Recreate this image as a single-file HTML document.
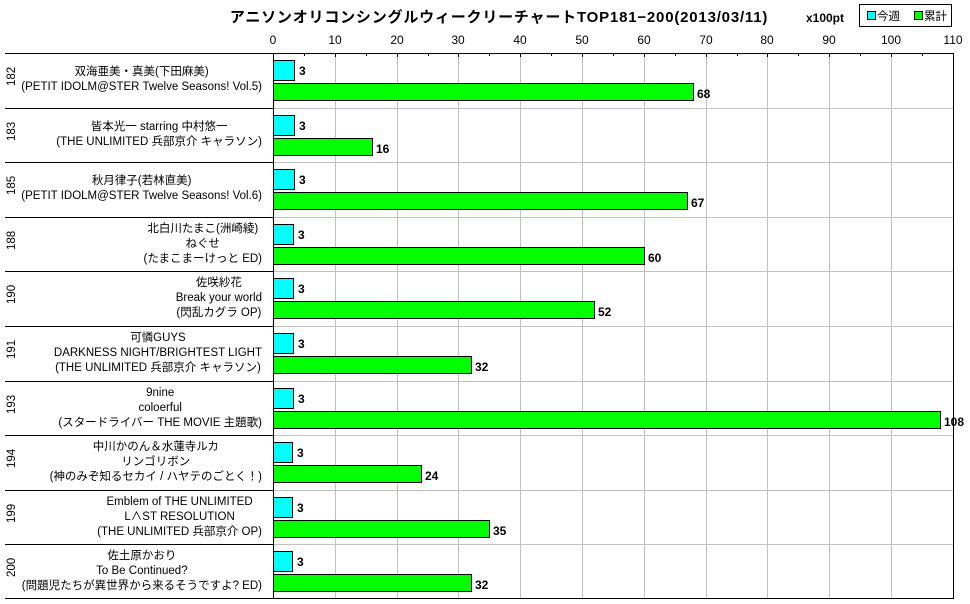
<!DOCTYPE html>
<html><head><meta charset="utf-8"><style>
body{margin:0;background:#fff;width:970px;height:604px;overflow:hidden;position:relative;font-family:"Liberation Sans","Noto Sans CJK JP",sans-serif;}
.lab{position:absolute;right:708px;text-align:right;font-size:11.5px;line-height:15px;color:#000}
.lab span{display:inline-block;text-align:center;white-space:nowrap}
.rk{position:absolute;left:4px;width:16px;font-size:11.5px;transform:rotate(-90deg);text-align:center}
</style></head><body>
<svg width="970" height="604" style="position:absolute;left:0;top:0" font-family="Liberation Sans, Noto Sans CJK JP, sans-serif">
<text x="499" y="22" font-size="15" font-weight="bold" letter-spacing="0.8" text-anchor="middle">アニソンオリコンシングルウィークリーチャートTOP181−200(2013/03/11)</text>
<text x="825" y="22" font-size="12" font-weight="bold" text-anchor="middle">x100pt</text>
<rect x="859.5" y="4.5" width="92" height="22" fill="#fff" stroke="#000"/>
<rect x="867.5" y="11.5" width="8" height="8" fill="#00ffff" stroke="#000"/>
<text x="877" y="20" font-size="11.5">今週</text>
<rect x="914.5" y="11.5" width="8" height="8" fill="#00ff00" stroke="#000"/>
<text x="924" y="20" font-size="11.5">累計</text>
<g id="grid"></g>
</svg>
<div id="labs"></div>
<script>
var x0=273,s=6.18,top0=53,rh=54.6;
var data=[["182",["双海亜美・真美(下田麻美)","(PETIT IDOLM@STER Twelve Seasons! Vol.5)"],68,21],
["183",["皆本光一 starring 中村悠一","(THE UNLIMITED 兵部京介 キャラソン)"],16,21],
["185",["秋月律子(若林直美)","(PETIT IDOLM@STER Twelve Seasons! Vol.6)"],67,21],
["188",["北白川たまこ(洲崎綾)","ねぐせ","(たまこまーけっと ED)"],60,20],
["190",["佐咲紗花","Break your world","(閃乱カグラ OP)"],52,20],
["191",["可憐GUYS","DARKNESS NIGHT/BRIGHTEST LIGHT","(THE UNLIMITED 兵部京介 キャラソン)"],32,20],
["193",["9nine","coloerful","(スタードライバー THE MOVIE 主題歌)"],108,20],
["194",["中川かのん＆水蓮寺ルカ","リンゴリボン","(神のみぞ知るセカイ / ハヤテのごとく！)"],24,19],
["199",["Emblem of THE UNLIMITED","L∧ST RESOLUTION","(THE UNLIMITED 兵部京介 OP)"],35,19],
["200",["佐土原かおり","To Be Continued?","(問題児たちが異世界から来るそうですよ? ED)"],32,19]];
var g='',h='';
for(var i=1;i<=11;i++){var x=Math.round(x0+i*10*s)+.5;if(i<11)g+='<line x1="'+x+'" y1="53" x2="'+x+'" y2="599" stroke="#c0c0c0"/>';}
for(var i=0;i<=11;i++){var x=Math.round(x0+i*10*s);g+='<text x="'+x+'" y="44" font-size="12" text-anchor="middle">'+(i*10)+'</text>';}
for(var i=1;i<22;i++){var x=Math.round(x0+i*5*s)+.5;g+='<line x1="'+x+'" y1="53" x2="'+x+'" y2="'+(i%2?56:57)+'" stroke="#000"/>';}
for(var r=1;r<10;r++){var y=Math.round(top0+r*rh)+.5;g+='<line x1="'+x0+'" y1="'+y+'" x2="953" y2="'+y+'" stroke="#c0c0c0"/><line x1="5" y1="'+y+'" x2="'+x0+'" y2="'+y+'" stroke="#000"/>';}
data.forEach(function(d,r){var t=Math.round(top0+r*rh);
g+='<rect x="273.5" y="'+(t+7.5)+'" width="'+d[3]+'" height="20" fill="#00ffff" stroke="#000"/>';
g+='<text x="'+(273+d[3]+5)+'" y="'+(t+22)+'" font-size="12" font-weight="bold">3</text>';
var w=Math.round(d[2]*s);
g+='<rect x="273.5" y="'+(t+30.5)+'" width="'+w+'" height="17" fill="#00ff00" stroke="#000"/>';
g+='<text x="'+(273+w+4)+'" y="'+(t+45)+'" font-size="12" font-weight="bold">'+d[2]+'</text>';
var n=d[1].length,cy=t+rh/2;
h+='<div class="lab" style="top:'+(cy-n*7.5)+'px"><span>'+d[1].join('<br>')+'</span></div>';
h+='<div class="rk" style="top:'+(cy-8)+'px">'+d[0]+'</div>';
});
g+='<line x1="5" y1="53.5" x2="954" y2="53.5" stroke="#000"/><line x1="273.5" y1="53" x2="273.5" y2="599" stroke="#000"/><line x1="953.5" y1="53" x2="953.5" y2="599" stroke="#000"/><line x1="5" y1="598.5" x2="954" y2="598.5" stroke="#000"/>';
document.getElementById('grid').outerHTML='<g>'+g+'</g>';
document.getElementById('labs').innerHTML=h;
</script>
</body></html>
